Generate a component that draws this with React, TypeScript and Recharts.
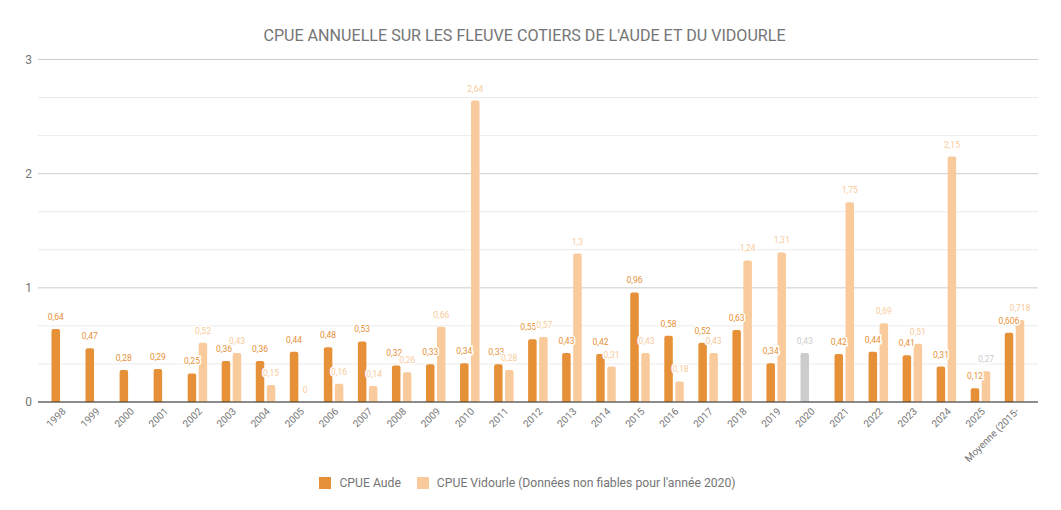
import {
  Bar,
  BarChart,
  CartesianGrid,
  Cell,
  LabelList,
  Legend,
  XAxis,
  YAxis,
} from "recharts";

const years = [
  "1998", "1999", "2000", "2001", "2002", "2003", "2004", "2005", "2006", "2007",
  "2008", "2009", "2010", "2011", "2012", "2013", "2014", "2015", "2016", "2017",
  "2018", "2019", "2020", "2021", "2022", "2023", "2024", "2025", "Moyenne (2015-",
];

const aude = [
  0.64, 0.47, 0.28, 0.29, 0.25, 0.36, 0.36, 0.44, 0.48, 0.53,
  0.32, 0.33, 0.34, 0.33, 0.55, 0.43, 0.42, 0.96, 0.58, 0.52,
  0.63, 0.34, 0.43, 0.42, 0.44, 0.41, 0.31, 0.12, 0.606,
];

const vidourle = [
  null, null, null, null, 0.52, 0.43, 0.15, 0, 0.16, 0.14,
  0.26, 0.66, 2.64, 0.28, 0.57, 1.3, 0.31, 0.43, 0.18, 0.43,
  1.24, 1.31, null, 1.75, 0.69, 0.51, 2.15, 0.27, 0.718,
];

// 2020 is drawn grey (unreliable data)
const greyYears = ["2020"];

const yTicks = [0, 1, 2, 3];
const minorTicks = [1 / 3, 2 / 3, 4 / 3, 5 / 3, 7 / 3, 8 / 3];

const AUDE = "#e69138";
const VIDOURLE = "#f9cb9c";
const GREY = "#cccccc";
const TEXT = "#757575";
const FONT = "Roboto, sans-serif";

const data = years.map((year, i) => ({
  year,
  aude: aude[i],
  vidourle: vidourle[i],
}));

const fmt = (v: number) => String(v).replace(".", ",");

// nudge labels apart when both bars have nearly the same height
const labelShift = (i: number, side: number) => {
  const v = vidourle[i];
  if (v === null) return 0;
  const diff = Math.abs(v - aude[i]);
  if (diff < 0.03) return side < 0 ? -4 : 1;
  if (diff < 0.08) return side < 0 ? -2 : 1;
  return 0;
};

const makeLabel = (color: string, side: number) => (props: any) => {
  const { x, y, width, value, index } = props;
  if (value === null || value === undefined) return null;
  const fill = greyYears.includes(years[index]) ? GREY : color;
  return (
    <text
      x={x + width / 2 + labelShift(index, side)}
      y={y - 9}
      textAnchor="middle"
      fontSize={8.5}
      fontFamily={FONT}
      fill={fill}
      stroke="#fff"
      strokeWidth={3}
      paintOrder="stroke"
    >
      {fmt(value)}
    </text>
  );
};

const XTick = (props: any) => {
  const { x, y, payload } = props;
  return (
    <text
      transform={`translate(${x + 5},${y + 10}) rotate(-45)`}
      textAnchor="end"
      fontSize={10}
      fontFamily={FONT}
      fill={TEXT}
    >
      {payload.value}
    </text>
  );
};

const LegendContent = () => (
  <div
    style={{
      display: "flex",
      justifyContent: "center",
      alignItems: "center",
      fontFamily: FONT,
      fontSize: 12.2,
      color: TEXT,
      gap: 16,
    }}
  >
    <div style={{ display: "flex", alignItems: "center", gap: 8 }}>
      <div style={{ width: 12, height: 12, background: AUDE }} />
      <span>CPUE Aude</span>
    </div>
    <div style={{ display: "flex", alignItems: "center", gap: 8 }}>
      <div style={{ width: 12, height: 12, background: VIDOURLE }} />
      <span>CPUE Vidourle (Données non fiables pour l'année 2020)</span>
    </div>
  </div>
);

export default function App() {
  return (
    <div style={{ position: "absolute", left: 0, top: 0, width: 1061, height: 510, background: "#fff" }}>
      <div
        style={{
          position: "absolute",
          top: 26,
          left: -6,
          width: 1061,
          textAlign: "center",
          fontFamily: FONT,
          fontSize: 16.1,
          color: TEXT,
        }}
      >
        CPUE ANNUELLE SUR LES FLEUVE COTIERS DE L'AUDE ET DU VIDOURLE
      </div>
      <BarChart
        width={1061}
        height={510}
        data={data}
        margin={{ top: 59.5, right: 23, bottom: 78, left: 0 }}
        barSize={8.5}
        barGap={2.5}
      >
        <CartesianGrid vertical={false} stroke="#ebebeb" horizontalValues={minorTicks} />
        <CartesianGrid vertical={false} stroke="#cccccc" />
        <XAxis
          dataKey="year"
          height={30}
          interval={0}
          padding={{ left: 6.5, right: 6.2 }}
          axisLine={{ stroke: "#333333" }}
          tickLine={false}
          tickSize={0}
          tickMargin={0}
          tick={<XTick />}
        />
        <YAxis
          width={38}
          domain={[0, 3]}
          ticks={yTicks}
          axisLine={false}
          tickLine={false}
          tickSize={0}
          tickMargin={6}
          tick={{ fontSize: 12, fill: TEXT, fontFamily: FONT }}
        />
        <Legend
          verticalAlign="middle"
          align="center"
          content={<LegendContent />}
          wrapperStyle={{ top: 476, left: -3, width: 1061 }}
        />
        <Bar dataKey="aude" name="CPUE Aude" fill={AUDE} radius={[2, 2, 0, 0]} isAnimationActive={false}>
          {years.map((year, i) => (
            <Cell key={`aude-${i}`} fill={greyYears.includes(year) ? GREY : AUDE} />
          ))}
          <LabelList dataKey="aude" content={makeLabel(AUDE, -1)} />
        </Bar>
        <Bar
          dataKey="vidourle"
          name="CPUE Vidourle"
          fill={VIDOURLE}
          radius={[2, 2, 0, 0]}
          minPointSize={(v: any) => (v === 0 ? 0.01 : 0)}
          isAnimationActive={false}
        >
          <LabelList dataKey="vidourle" content={makeLabel(VIDOURLE, 1)} />
        </Bar>
      </BarChart>
    </div>
  );
}
